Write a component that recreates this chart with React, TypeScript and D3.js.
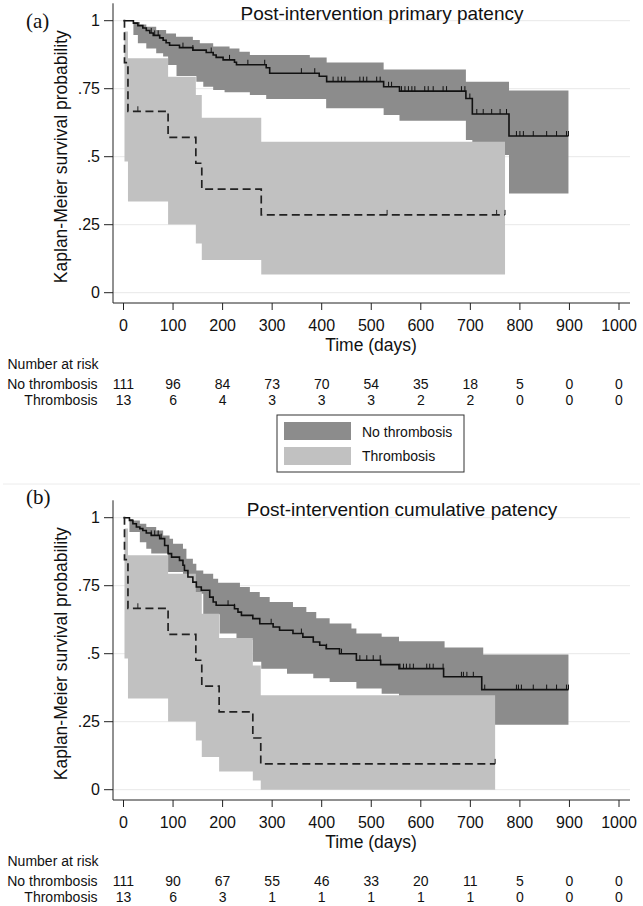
import React from 'react';
import * as d3 from 'd3';

// ---------- shared axis data ----------
const xTicks = [0, 100, 200, 300, 400, 500, 600, 700, 800, 900, 1000];
const yTicks = [0, 0.25, 0.5, 0.75, 1];
const yTickLabels = ['0', '.25', '.5', '.75', '1'];
const groups = ['No thrombosis', 'Thrombosis'];

// ---------- Panel (a): primary patency ----------
const aNoTime = [0, 20, 29, 39, 46, 53, 60, 73, 80, 86, 93, 113, 140, 167, 181, 187, 201, 224, 228, 288, 295, 395, 410, 525, 557, 691, 704, 778, 898];
const aNoSurv = [1, 0.991, 0.982, 0.973, 0.964, 0.955, 0.946, 0.937, 0.928, 0.919, 0.91, 0.901, 0.892, 0.883, 0.874, 0.865, 0.856, 0.847, 0.838, 0.827, 0.807, 0.796, 0.776, 0.757, 0.741, 0.714, 0.657, 0.576, 0.576];
const aNoUpT = [20, 33, 46, 66, 86, 106, 140, 154, 181, 214, 234, 255, 376, 410, 525, 691, 778];
const aNoUpV = [0.995, 0.986, 0.978, 0.966, 0.953, 0.941, 0.929, 0.917, 0.905, 0.898, 0.886, 0.874, 0.865, 0.846, 0.821, 0.776, 0.743];
const aNoLoT = [20, 29, 46, 66, 80, 90, 107, 147, 161, 181, 204, 255, 288, 409, 525, 557, 691, 704, 778];
const aNoLoV = [0.947, 0.917, 0.898, 0.88, 0.868, 0.837, 0.797, 0.776, 0.757, 0.745, 0.737, 0.727, 0.712, 0.678, 0.653, 0.632, 0.561, 0.506, 0.365];
const aNoEnd = 898;
const aNoCens = [56, 63, 70, 120, 140, 177, 214, 251, 285, 359, 386, 423, 433, 440, 447, 477, 484, 491, 511, 518, 535, 541, 561, 568, 575, 582, 588, 608, 615, 625, 645, 652, 682, 689, 699, 713, 726, 743, 760, 773, 793, 800, 807, 827, 854, 874, 894, 898];

const aThrTime = [0, 2, 9, 90, 146, 158, 278, 770];
const aThrSurv = [1, 0.846, 0.667, 0.571, 0.476, 0.381, 0.286, 0.286];
const aThrUpT = [2, 9, 90, 146, 158, 278];
const aThrUpV = [0.96, 0.862, 0.794, 0.727, 0.643, 0.555];
const aThrLoT = [2, 9, 90, 146, 158, 278];
const aThrLoV = [0.482, 0.335, 0.251, 0.181, 0.12, 0.067];
const aThrEnd = 770;
const aThrCens = [29, 532, 753, 770];

const aRiskNo = [111, 96, 84, 73, 70, 54, 35, 18, 5, 0, 0];
const aRiskThr = [13, 6, 4, 3, 3, 3, 2, 2, 0, 0, 0];

// ---------- Panel (b): cumulative patency ----------
const bNoTime = [0, 12, 19, 26, 33, 39, 46, 56, 73, 83, 90, 97, 113, 120, 123, 130, 140, 147, 157, 174, 181, 187, 224, 231, 238, 261, 275, 302, 315, 342, 362, 383, 396, 409, 436, 470, 519, 556, 646, 723, 898];
const bNoSurv = [1, 0.99, 0.978, 0.966, 0.96, 0.953, 0.944, 0.935, 0.923, 0.898, 0.868, 0.855, 0.843, 0.825, 0.806, 0.782, 0.763, 0.745, 0.733, 0.708, 0.69, 0.678, 0.665, 0.653, 0.641, 0.629, 0.61, 0.598, 0.586, 0.574, 0.561, 0.543, 0.531, 0.518, 0.5, 0.476, 0.46, 0.445, 0.415, 0.368, 0.368];
const bNoUpT = [12, 19, 33, 46, 66, 80, 93, 100, 120, 127, 140, 147, 161, 181, 191, 235, 255, 275, 295, 342, 369, 389, 416, 460, 470, 521, 556, 648, 726];
const bNoUpV = [0.995, 0.99, 0.978, 0.966, 0.953, 0.935, 0.923, 0.904, 0.886, 0.849, 0.831, 0.806, 0.794, 0.776, 0.761, 0.745, 0.727, 0.708, 0.69, 0.672, 0.653, 0.63, 0.611, 0.593, 0.574, 0.562, 0.546, 0.523, 0.497];
const bNoLoT = [12, 33, 46, 56, 90, 120, 161, 194, 228, 261, 278, 330, 383, 416, 470, 521, 556, 648, 726];
const bNoLoV = [0.947, 0.91, 0.886, 0.868, 0.8, 0.72, 0.645, 0.574, 0.55, 0.47, 0.445, 0.426, 0.41, 0.396, 0.372, 0.353, 0.33, 0.29, 0.239];
const bNoEnd = 898;
const bNoCens = [56, 63, 70, 76, 211, 224, 298, 359, 410, 440, 477, 491, 504, 518, 558, 565, 571, 578, 585, 612, 618, 625, 645, 682, 686, 693, 706, 729, 793, 797, 803, 827, 854, 874, 894, 898];

const bThrTime = [0, 2, 9, 90, 146, 158, 193, 261, 277, 750];
const bThrSurv = [1, 0.846, 0.667, 0.571, 0.476, 0.381, 0.286, 0.19, 0.095, 0.095];
const bThrUpT = [2, 9, 90, 146, 158, 193, 261, 277];
const bThrUpV = [0.96, 0.862, 0.794, 0.727, 0.647, 0.558, 0.457, 0.347];
const bThrLoT = [2, 9, 90, 146, 158, 193, 261, 277];
const bThrLoV = [0.482, 0.335, 0.251, 0.181, 0.12, 0.067, 0.034, 0];
const bThrEnd = 750;
const bThrCens = [29, 750];

const bRiskNo = [111, 90, 67, 55, 46, 33, 20, 11, 5, 0, 0];
const bRiskThr = [13, 6, 3, 1, 1, 1, 1, 1, 0, 0, 0];

// ---------- helpers ----------
const SANS = 'Liberation Sans, Arial, Helvetica, sans-serif';
const SERIF = 'Liberation Serif, Times New Roman, serif';
const DARK = '#8c8c8c';
const LIGHT = '#c1c1c1';
const GRID = '#e8e8e8';

type Pt = { t: number; lo: number; hi: number };

const stepAt = (ts: number[], vs: number[], t: number) => {
  let v = vs[0];
  for (let i = 0; i < ts.length; i++) if (ts[i] <= t) v = vs[i];
  return v;
};

const buildBand = (upT: number[], upV: number[], loT: number[], loV: number[], end: number): Pt[] => {
  const ts = Array.from(new Set([...upT, ...loT])).sort((a, b) => a - b).filter((t) => t < end);
  const pts = ts.map((t) => ({ t, lo: stepAt(loT, loV, t), hi: stepAt(upT, upV, t) }));
  pts.push({ ...pts[pts.length - 1], t: end });
  return pts;
};

const x = d3.scaleLinear().domain([0, 1000]).range([123.5, 619]);

type PanelProps = {
  dy: number;
  label: string;
  labelY: number;
  title: string;
  titleX: number;
  titleY: number;
  noT: number[]; noS: number[]; noUpT: number[]; noUpV: number[]; noLoT: number[]; noLoV: number[]; noEnd: number; noCens: number[];
  thT: number[]; thS: number[]; thUpT: number[]; thUpV: number[]; thLoT: number[]; thLoV: number[]; thEnd: number; thCens: number[];
  riskNo: number[]; riskThr: number[];
};

function Panel(p: PanelProps) {
  const y = d3.scaleLinear().domain([0, 1]).range([292.7 + p.dy, 20.7 + p.dy]);
  const axisY = 303 + p.dy;
  const area = d3.area<Pt>().x((d) => x(d.t)).y0((d) => y(d.lo)).y1((d) => y(d.hi)).curve(d3.curveStepAfter);
  const line = d3.line<[number, number]>().x((d) => x(d[0])).y((d) => y(d[1])).curve(d3.curveStepAfter);
  const noBand = buildBand(p.noUpT, p.noUpV, p.noLoT, p.noLoV, p.noEnd);
  const thBand = buildBand(p.thUpT, p.thUpV, p.thLoT, p.thLoV, p.thEnd);
  const noPts = p.noT.map((t, i) => [t, p.noS[i]] as [number, number]);
  const thPts = p.thT.map((t, i) => [t, p.thS[i]] as [number, number]);

  return (
    <g>
      {/* gridlines */}
      {yTicks.map((v) => (
        <line key={'g' + v} x1={113} x2={630} y1={y(v)} y2={y(v)} stroke={GRID} strokeWidth={1} />
      ))}
      {/* CI bands */}
      <path d={area(noBand) || ''} fill={DARK} />
      <path d={area(thBand) || ''} fill={LIGHT} />
      {/* KM curves */}
      <path d={line(noPts) || ''} fill="none" stroke="#111" strokeWidth={1.6} />
      <path d={line(thPts) || ''} fill="none" stroke="#222" strokeWidth={1.7} strokeDasharray="8,4.5" />
      {/* censor marks */}
      {p.noCens.map((t, i) => {
        const yy = y(stepAt(p.noT, p.noS, t));
        return <line key={'cn' + i} x1={x(t)} x2={x(t)} y1={yy} y2={yy - 5} stroke="#111" strokeWidth={1} />;
      })}
      {p.thCens.map((t, i) => {
        const yy = y(stepAt(p.thT, p.thS, t));
        return <line key={'ct' + i} x1={x(t)} x2={x(t)} y1={yy} y2={yy - 5} stroke="#222" strokeWidth={1} />;
      })}
      {/* axes */}
      <line x1={113} x2={113} y1={3.3 + p.dy} y2={axisY} stroke="#222" strokeWidth={1} />
      <line x1={113} x2={630} y1={axisY} y2={axisY} stroke="#222" strokeWidth={1} />
      {yTicks.map((v, i) => (
        <g key={'yt' + v}>
          <line x1={104} x2={113} y1={y(v)} y2={y(v)} stroke="#222" strokeWidth={1} />
          <text x={100} y={y(v) + 5.7} textAnchor="end" fontSize={16} fontFamily={SANS} fill="#111">
            {yTickLabels[i]}
          </text>
        </g>
      ))}
      {xTicks.map((v) => (
        <g key={'xt' + v}>
          <line x1={x(v)} x2={x(v)} y1={axisY} y2={axisY + 7} stroke="#222" strokeWidth={1} />
          <text x={x(v)} y={331.4 + p.dy} textAnchor="middle" fontSize={16} fontFamily={SANS} fill="#111">
            {v}
          </text>
        </g>
      ))}
      {/* axis titles */}
      <text x={371} y={351 + p.dy} textAnchor="middle" fontSize={17.5} fontFamily={SANS} fill="#111">
        Time (days)
      </text>
      <text
        transform={`translate(67,${156.7 + p.dy}) rotate(-90)`}
        textAnchor="middle"
        fontSize={17.5}
        fontFamily={SANS}
        fill="#111"
      >
        Kaplan-Meier survival probability
      </text>
      {/* title and panel label */}
      <text x={p.titleX} y={p.titleY} textAnchor="middle" fontSize={19} fontFamily={SANS} fill="#111">
        {p.title}
      </text>
      <text x={26} y={p.labelY} fontSize={21} fontFamily={SERIF} fill="#111">
        {p.label}
      </text>
      {/* number at risk */}
      <text x={7.5} y={369 + p.dy} fontSize={14} fontFamily={SANS} fill="#111">
        Number at risk
      </text>
      <text x={97.5} y={389 + p.dy} textAnchor="end" fontSize={14} fontFamily={SANS} fill="#111">
        {groups[0]}
      </text>
      <text x={97.5} y={405 + p.dy} textAnchor="end" fontSize={14} fontFamily={SANS} fill="#111">
        {groups[1]}
      </text>
      {xTicks.map((v, i) => (
        <g key={'r' + v}>
          <text x={x(v)} y={389 + p.dy} textAnchor="middle" fontSize={14} fontFamily={SANS} fill="#111">
            {p.riskNo[i]}
          </text>
          <text x={x(v)} y={405 + p.dy} textAnchor="middle" fontSize={14} fontFamily={SANS} fill="#111">
            {p.riskThr[i]}
          </text>
        </g>
      ))}
    </g>
  );
}

export default function App() {
  return (
    <svg
      width={643}
      height={906}
      viewBox="0 0 643 906"
      style={{ position: 'absolute', left: 0, top: 0, background: '#fff' }}
    >
      <rect x={0} y={0} width={643} height={906} fill="#fff" />
      <Panel
        dy={0}
        label="(a)"
        labelY={28}
        title="Post-intervention primary patency"
        titleX={382}
        titleY={20}
        noT={aNoTime} noS={aNoSurv} noUpT={aNoUpT} noUpV={aNoUpV} noLoT={aNoLoT} noLoV={aNoLoV} noEnd={aNoEnd} noCens={aNoCens}
        thT={aThrTime} thS={aThrSurv} thUpT={aThrUpT} thUpV={aThrUpV} thLoT={aThrLoT} thLoV={aThrLoV} thEnd={aThrEnd} thCens={aThrCens}
        riskNo={aRiskNo} riskThr={aRiskThr}
      />
      {/* legend */}
      <rect x={277} y={415} width={187} height={57} fill="#fff" stroke="#333" strokeWidth={1} />
      <rect x={284} y={422} width={67} height={18} fill={DARK} />
      <rect x={284} y={447} width={67} height={18} fill={LIGHT} />
      <text x={362} y={437} fontSize={14} fontFamily={SANS} fill="#111">{groups[0]}</text>
      <text x={362} y={461} fontSize={14} fontFamily={SANS} fill="#111">{groups[1]}</text>
      {/* separator */}
      <line x1={3} x2={640} y1={484} y2={484} stroke="#ececec" strokeWidth={1} />
      <Panel
        dy={497}
        label="(b)"
        labelY={504}
        title="Post-intervention cumulative patency"
        titleX={402}
        titleY={516}
        noT={bNoTime} noS={bNoSurv} noUpT={bNoUpT} noUpV={bNoUpV} noLoT={bNoLoT} noLoV={bNoLoV} noEnd={bNoEnd} noCens={bNoCens}
        thT={bThrTime} thS={bThrSurv} thUpT={bThrUpT} thUpV={bThrUpV} thLoT={bThrLoT} thLoV={bThrLoV} thEnd={bThrEnd} thCens={bThrCens}
        riskNo={bRiskNo} riskThr={bRiskThr}
      />
    </svg>
  );
}
